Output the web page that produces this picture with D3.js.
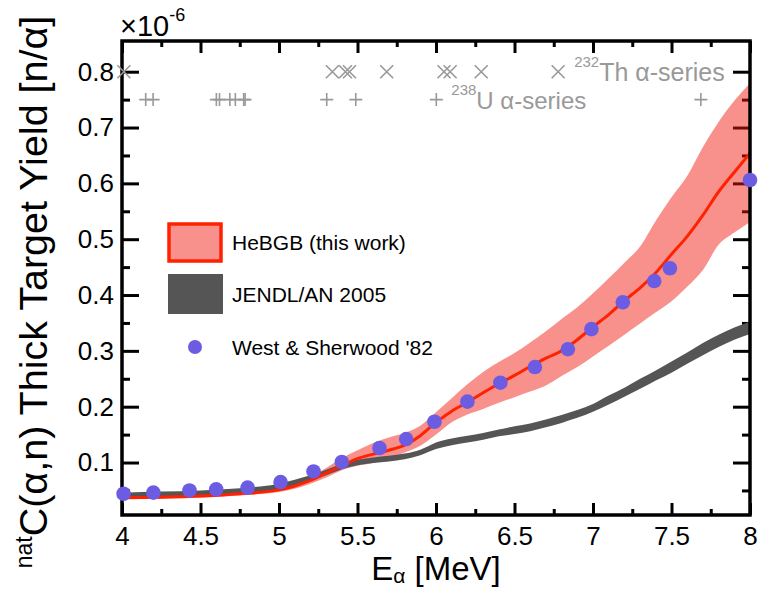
<!DOCTYPE html>
<html>
<head>
<meta charset="utf-8">
<script src="https://cdn.jsdelivr.net/npm/d3@7"></script>
<style>
  body { margin: 0; background: #fff; }
  text { font-family: "Liberation Sans", Arial, Helvetica, sans-serif; }
</style>
</head>
<body>
<svg id="chart" width="767" height="590"></svg>
<script>
// alpha energy grid [MeV] for the calculated curves
const energies = [4.0, 4.25, 4.5, 4.75, 5.0, 5.1, 5.2, 5.3, 5.4, 5.5, 5.6, 5.7, 5.8, 5.9,
  6.0, 6.1, 6.2, 6.3, 6.4, 6.5, 6.6, 6.7, 6.8, 6.9, 7.0, 7.1, 7.2, 7.3, 7.4, 7.5,
  7.6, 7.7, 7.8, 7.9, 8.0];

// HeBGB (this work): central value and uncertainty band, x1e-6 n/alpha
const hebgb = [0.037, 0.038, 0.040, 0.044, 0.051, 0.058, 0.068, 0.081, 0.094, 0.107,
  0.115, 0.122, 0.131, 0.148, 0.172, 0.192, 0.208, 0.225, 0.241, 0.256, 0.272, 0.287,
  0.300, 0.320, 0.343, 0.365, 0.390, 0.413, 0.440, 0.473, 0.505, 0.543, 0.585, 0.620, 0.654];
const hebgbHi = [0.040, 0.041, 0.043, 0.047, 0.055, 0.063, 0.075, 0.090, 0.108, 0.122,
  0.135, 0.145, 0.153, 0.166, 0.190, 0.215, 0.240, 0.262, 0.280, 0.296, 0.315, 0.335,
  0.357, 0.378, 0.403, 0.430, 0.458, 0.487, 0.533, 0.575, 0.613, 0.665, 0.710, 0.748, 0.779];
const hebgbLo = [0.034, 0.035, 0.037, 0.041, 0.047, 0.053, 0.062, 0.073, 0.086, 0.094,
  0.099, 0.108, 0.118, 0.130, 0.150, 0.172, 0.186, 0.196, 0.207, 0.217, 0.227, 0.238,
  0.255, 0.271, 0.290, 0.309, 0.329, 0.349, 0.369, 0.389, 0.415, 0.445, 0.490, 0.512, 0.531];

// JENDL/AN 2005 band
const jendlHi = [0.046, 0.048, 0.050, 0.054, 0.062, 0.069, 0.077, 0.087, 0.098, 0.105,
  0.109, 0.112, 0.116, 0.123, 0.136, 0.143, 0.148, 0.153, 0.159, 0.165, 0.170, 0.177,
  0.185, 0.194, 0.205, 0.220, 0.234, 0.250, 0.265, 0.281, 0.297, 0.314, 0.329, 0.342, 0.352];
const jendlLo = [0.036, 0.038, 0.040, 0.044, 0.052, 0.059, 0.067, 0.077, 0.088, 0.095,
  0.099, 0.102, 0.106, 0.113, 0.124, 0.131, 0.136, 0.141, 0.147, 0.151, 0.156, 0.163,
  0.171, 0.180, 0.191, 0.204, 0.218, 0.232, 0.247, 0.261, 0.277, 0.292, 0.307, 0.320, 0.330];

// West & Sherwood '82 measurements
const westE = [4.01, 4.20, 4.43, 4.60, 4.80, 5.01, 5.22, 5.40, 5.64, 5.81, 5.99, 6.20,
  6.41, 6.63, 6.84, 6.99, 7.19, 7.39, 7.49, 8.00];
const westY = [0.044, 0.046, 0.050, 0.052, 0.055, 0.065, 0.084, 0.101, 0.126, 0.142,
  0.173, 0.209, 0.243, 0.271, 0.303, 0.339, 0.387, 0.425, 0.448, 0.606];

// decay-chain alpha lines
const thAlpha = [4.012, 5.340, 5.423, 5.449, 5.686, 6.051, 6.090, 6.288, 6.778];
const uAlpha = [4.151, 4.198, 4.601, 4.621, 4.687, 4.722, 4.775, 4.784, 5.304, 5.489, 6.002, 7.687];
const thRow = 0.8, uRow = 0.75;

// ticks
const xMajor = [4, 4.5, 5, 5.5, 6, 6.5, 7, 7.5, 8];
const xMinor = [4.25, 4.75, 5.25, 5.75, 6.25, 6.75, 7.25, 7.75];
const yMajor = [0.1, 0.2, 0.3, 0.4, 0.5, 0.6, 0.7, 0.8];
const yMinor = [0.05, 0.15, 0.25, 0.35, 0.45, 0.55, 0.65, 0.75];

const legendLabels = ["HeBGB (this work)", "JENDL/AN 2005", "West & Sherwood '82"];

const bandFill = "rgba(240,22,12,0.48)";
const redLine = "#ff2200";
const grayBand = "#555555";
const dotColor = "#6b5ce2";
const markGray = "#999999";

const svg = d3.select("#chart");
const yMin = 0.006, yMax = 0.855;
const x = d3.scaleLinear().domain([4, 8]).range([122, 750]);
const y = d3.scaleLinear().domain([yMin, yMax]).range([515, 41]);

svg.append("defs").append("clipPath").attr("id", "plotclip")
  .append("rect")
  .attr("x", x(4)).attr("y", y(yMax))
  .attr("width", x(8) - x(4)).attr("height", y(yMin) - y(yMax));

// axes (ticks pointing inwards)
function styleAxis(g) {
  g.select(".domain").remove();
  g.selectAll(".tick line").attr("stroke", "#000").attr("stroke-width", 3);
  g.selectAll(".tick text").attr("fill", "#000").style("font-size", "26px")
    .style("font-family", '"Liberation Sans", Arial, sans-serif');
}

svg.append("g").attr("transform", `translate(0,${y(yMin)})`)
  .call(d3.axisBottom(x).tickValues(xMajor).tickSize(-12).tickPadding(12).tickFormat(d3.format("")))
  .call(styleAxis);
svg.append("g").attr("transform", `translate(0,${y(yMin)})`)
  .call(d3.axisBottom(x).tickValues(xMinor).tickSize(-6).tickFormat(""))
  .call(styleAxis);
svg.append("g").attr("transform", `translate(0,${y(yMax)})`)
  .call(d3.axisTop(x).tickValues(xMajor).tickSize(-12).tickFormat(""))
  .call(styleAxis);
svg.append("g").attr("transform", `translate(0,${y(yMax)})`)
  .call(d3.axisTop(x).tickValues(xMinor).tickSize(-6).tickFormat(""))
  .call(styleAxis);
svg.append("g").attr("transform", `translate(${x(4)},0)`)
  .call(d3.axisLeft(y).tickValues(yMajor).tickSize(-17).tickPadding(8).tickFormat(d3.format(".1f")))
  .call(styleAxis);
svg.append("g").attr("transform", `translate(${x(4)},0)`)
  .call(d3.axisLeft(y).tickValues(yMinor).tickSize(-8).tickFormat(""))
  .call(styleAxis);
svg.append("g").attr("transform", `translate(${x(8)},0)`)
  .call(d3.axisRight(y).tickValues(yMajor).tickSize(-17).tickFormat(""))
  .call(styleAxis);
svg.append("g").attr("transform", `translate(${x(8)},0)`)
  .call(d3.axisRight(y).tickValues(yMinor).tickSize(-8).tickFormat(""))
  .call(styleAxis);

// curves
const plot = svg.append("g").attr("clip-path", "url(#plotclip)");
const idx = d3.range(energies.length);

const area = (lo, hi) => d3.area()
  .x(i => x(energies[i]))
  .y0(i => y(lo[i]))
  .y1(i => y(hi[i]))
  .curve(d3.curveMonotoneX);

plot.append("path").datum(idx)
  .attr("d", area(hebgbLo, hebgbHi))
  .attr("fill", bandFill);

plot.append("path").datum(idx)
  .attr("d", area(jendlLo, jendlHi))
  .attr("fill", grayBand);

plot.append("path").datum(idx)
  .attr("d", d3.line().x(i => x(energies[i])).y(i => y(hebgb[i])).curve(d3.curveMonotoneX))
  .attr("fill", "none")
  .attr("stroke", redLine)
  .attr("stroke-width", 3);

// frame
svg.append("rect")
  .attr("x", x(4)).attr("y", y(yMax))
  .attr("width", x(8) - x(4)).attr("height", y(yMin) - y(yMax))
  .attr("fill", "none").attr("stroke", "#000").attr("stroke-width", 3.5);

// measurements
svg.append("g").selectAll("circle")
  .data(westE)
  .join("circle")
  .attr("cx", d => x(d))
  .attr("cy", (d, i) => y(westY[i]))
  .attr("r", 7.3)
  .attr("fill", dotColor);

// alpha-series markers
const ms = 6.5;
svg.append("g").selectAll("path")
  .data(thAlpha)
  .join("path")
  .attr("d", d => {
    const cx = x(d), cy = y(thRow);
    return `M${cx - ms},${cy - ms}L${cx + ms},${cy + ms}M${cx + ms},${cy - ms}L${cx - ms},${cy + ms}`;
  })
  .attr("stroke", markGray).attr("stroke-width", 1.6).attr("fill", "none");

svg.append("g").selectAll("path")
  .data(uAlpha)
  .join("path")
  .attr("d", d => {
    const cx = x(d), cy = y(uRow);
    return `M${cx - ms},${cy}L${cx + ms},${cy}M${cx},${cy - ms}L${cx},${cy + ms}`;
  })
  .attr("stroke", markGray).attr("stroke-width", 1.6).attr("fill", "none");

const thText = svg.append("text")
  .attr("x", x(6.778) + 16).attr("y", y(thRow) + 9)
  .attr("fill", markGray).style("font-size", "25px");
thText.append("tspan").attr("dy", -14).style("font-size", "15px").text("232");
thText.append("tspan").attr("dy", 14).text("Th α-series");

const uText = svg.append("text")
  .attr("x", x(6.002) + 15).attr("y", y(uRow) + 9)
  .attr("fill", markGray).style("font-size", "24px");
uText.append("tspan").attr("dy", -14).style("font-size", "15px").text("238");
uText.append("tspan").attr("dy", 14).text("U α-series");

// exponent label
const expo = svg.append("text").attr("x", x(4) - 2).attr("y", 36).attr("fill", "#000")
  .style("font-size", "29px");
expo.append("tspan").text("×10");
expo.append("tspan").attr("dy", -15).style("font-size", "18px").text("-6");

// axis titles
const xt = svg.append("text")
  .attr("x", (x(4) + x(8)) / 2).attr("y", 580)
  .attr("text-anchor", "middle").attr("fill", "#000")
  .style("font-size", "33px");
xt.append("tspan").text("E");
xt.append("tspan").attr("dy", 3).style("font-size", "21px").text("α");
xt.append("tspan").attr("dy", -3).text(" [MeV]");

const yt = svg.append("text")
  .attr("transform", "translate(47,292) rotate(-90)")
  .attr("text-anchor", "middle").attr("fill", "#000")
  .style("font-size", "39.5px");
yt.append("tspan").attr("dy", -15).style("font-size", "23px").text("nat");
yt.append("tspan").attr("dy", 15).text("C(α,n) Thick Target Yield [n/α]");

// legend
const leg = svg.append("g").style("font-size", "21px");
leg.append("rect").attr("x", 169).attr("y", 224).attr("width", 52).attr("height", 37)
  .attr("fill", bandFill).attr("stroke", redLine).attr("stroke-width", 3.5);
leg.append("rect").attr("x", 168).attr("y", 274).attr("width", 55).attr("height", 40)
  .attr("fill", grayBand);
leg.append("circle").attr("cx", 195).attr("cy", 347).attr("r", 7).attr("fill", dotColor);
leg.selectAll("text.lab")
  .data(legendLabels)
  .join("text")
  .attr("class", "lab")
  .attr("x", 232)
  .attr("y", (d, i) => [250, 302, 355][i])
  .attr("fill", "#000")
  .text(d => d);
</script>
</body>
</html>
